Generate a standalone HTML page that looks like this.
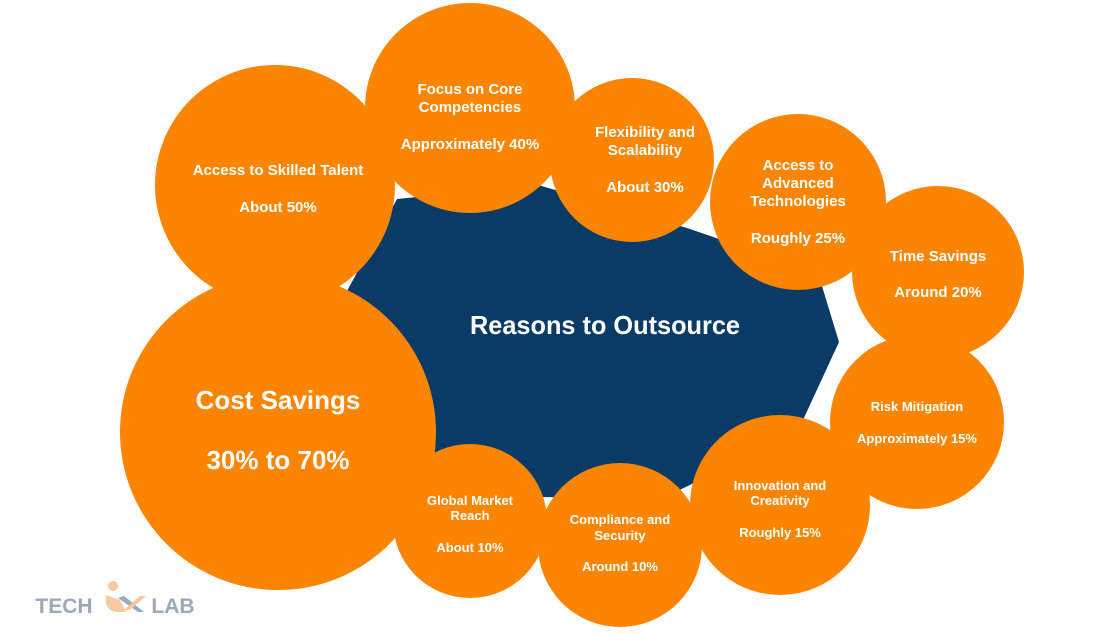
<!DOCTYPE html>
<html><head><style>
html,body{margin:0;padding:0;background:#fff;}
svg text{font-family:"Liberation Sans",sans-serif;font-weight:bold;fill:#fff;text-anchor:middle;}
</style></head><body>
<svg width="1120" height="630" viewBox="0 0 1120 630" xmlns="http://www.w3.org/2000/svg">
<polygon points="347,291 397,199 538,185 687,228 818,273 839,342 797,433 663,498 527,497 427,455" fill="#0a3a66"/>
<g fill="#fb8500">
<circle cx="275" cy="185" r="120"/>
<circle cx="470" cy="108" r="105"/>
<circle cx="632" cy="160" r="82"/>
<circle cx="798" cy="202" r="88"/>
<circle cx="938" cy="272" r="86"/>
<circle cx="917" cy="422" r="87"/>
<circle cx="780" cy="505" r="90"/>
<circle cx="620" cy="545" r="82"/>
<circle cx="470" cy="521" r="77"/>
<circle cx="278" cy="432" r="158"/>
</g>
<text x="605" y="334" font-size="26" textLength="270" lengthAdjust="spacingAndGlyphs">Reasons to Outsource</text>
<g font-size="15">
<text x="278" y="175">Access to Skilled Talent</text>
<text x="278" y="212">About 50%</text>
<text x="470" y="94">Focus on Core</text>
<text x="470" y="112">Competencies</text>
<text x="470" y="149">Approximately 40%</text>
<text x="645" y="137">Flexibility and</text>
<text x="645" y="155">Scalability</text>
<text x="645" y="192">About 30%</text>
<text x="798" y="170">Access to</text>
<text x="798" y="188">Advanced</text>
<text x="798" y="206">Technologies</text>
<text x="798" y="243">Roughly 25%</text>
<text x="938" y="261">Time Savings</text>
<text x="938" y="297">Around 20%</text>
</g>
<g font-size="13">
<text x="917" y="411">Risk Mitigation</text>
<text x="917" y="443">Approximately 15%</text>
<text x="780" y="490">Innovation and</text>
<text x="780" y="505">Creativity</text>
<text x="780" y="537">Roughly 15%</text>
<text x="620" y="524">Compliance and</text>
<text x="620" y="540">Security</text>
<text x="620" y="571">Around 10%</text>
<text x="470" y="505">Global Market</text>
<text x="470" y="520">Reach</text>
<text x="470" y="552">About 10%</text>
</g>
<text x="278" y="409" font-size="26">Cost Savings</text>
<text x="278" y="469" font-size="26">30% to 70%</text>
<g font-size="21" style="fill:#8a9cb0">
<text x="64" y="613" style="fill:#9aa8b8">TECH</text>
<text x="173" y="613" style="fill:#9aa8b8">LAB</text>
</g>
<circle cx="113" cy="586" r="5" fill="#f6c9a0"/>
<path d="M106,595 Q104,612 118,612 L126,612 L120,600 Z" fill="#f6c9a0"/>
<path d="M118,598 L138,612 L144,612 L124,596 Z" fill="#9aa8b8"/>
<path d="M124,610 L140,596 L146,596 L130,610 Z" fill="#f6c9a0"/>
</svg>
</body></html>
